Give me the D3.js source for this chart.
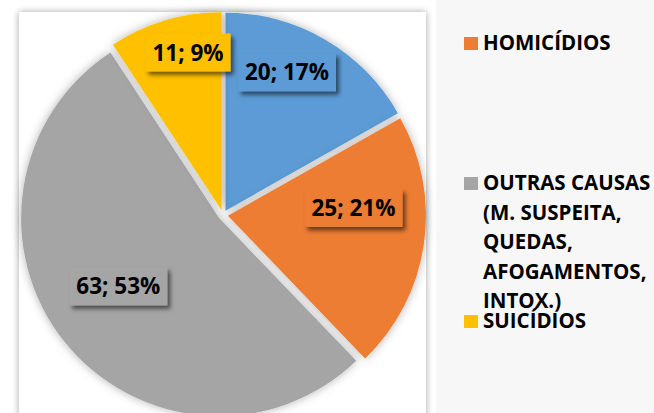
<!DOCTYPE html>
<html><head><meta charset="utf-8">
<script src="https://cdn.jsdelivr.net/npm/d3@7"></script>
<style>
html,body{margin:0;padding:0;background:#fff;}
svg{display:block;}
</style></head>
<body>
<svg id="chart" width="654" height="413"></svg>
<script>
// ---- data ----
const categories = ["OUTROS", "HOMICÍDIOS", "OUTRAS CAUSAS (M. SUSPEITA, QUEDAS, AFOGAMENTOS, INTOX.)", "SUICÍDIOS"];
const values = [20, 25, 63, 11];
const percentLabels = ["17%", "21%", "53%", "9%"];
const colors = ["#5B9BD5", "#ED7D31", "#A5A5A5", "#FFC000"];
const legendIndices = [1, 2, 3];
const legendLines = [["HOMICÍDIOS"], ["OUTRAS CAUSAS", "(M. SUSPEITA,", "QUEDAS,", "AFOGAMENTOS,", "INTOX.)"], ["SUICÍDIOS"]];

// ---- layout ----
const W = 654, H = 413;
const cx = 223, cy = 215, R = 198, explode = 5;
const labelRadius = [0.79, 0.66, 0.64, 0.84];
const labelAngleShift = [-6.1, -11.4, 4.3, 4.5];
const legendY = [50, 190, 328];
const font = "'Open Sans', sans-serif";

const svg = d3.select("#chart");
const defs = svg.append("defs");
const f1 = defs.append("filter").attr("id","panelShadow").attr("x","-10%").attr("y","-10%").attr("width","120%").attr("height","120%");
f1.append("feDropShadow").attr("dx",0).attr("dy",0).attr("stdDeviation",3.5).attr("flood-color","#000").attr("flood-opacity",0.35);
const f2 = defs.append("filter").attr("id","pieShadow").attr("x","-20%").attr("y","-20%").attr("width","140%").attr("height","140%");
f2.append("feDropShadow").attr("dx",0).attr("dy",0).attr("stdDeviation",5).attr("flood-color","#000").attr("flood-opacity",0.3);
const f3 = defs.append("filter").attr("id","boxShadow").attr("x","-20%").attr("y","-30%").attr("width","150%").attr("height","170%");
f3.append("feDropShadow").attr("dx",3).attr("dy",3.5).attr("stdDeviation",2).attr("flood-color","#000").attr("flood-opacity",0.55);

// background: legend area
svg.append("rect").attr("x",436).attr("y",0).attr("width",W-436).attr("height",H).attr("fill","#f7f7f7");
// plot panel
svg.append("rect").attr("x",19).attr("y",12).attr("width",407).attr("height",H+20).attr("fill","#fff").attr("filter","url(#panelShadow)");

const pie = d3.pie().sort(null).value(d => d)(values);
const arc = d3.arc().innerRadius(0).outerRadius(R);

const g = svg.append("g").attr("transform",`translate(${cx},${cy})`);
g.selectAll("path").data(pie).join("path")
  .attr("d", arc)
  .attr("fill", (d,i) => colors[i])
  .attr("filter","url(#pieShadow)")
  .attr("transform", d => {
    const a = (d.startAngle + d.endAngle)/2;
    return `translate(${explode*Math.sin(a)},${-explode*Math.cos(a)})`;
  });

// labels
const lg = g.selectAll("g.lbl").data(pie).join("g").attr("class","lbl")
  .attr("transform", (d,i) => {
    const a = (d.startAngle + d.endAngle)/2 + labelAngleShift[i]*Math.PI/180;
    const r = R*labelRadius[i];
    return `translate(${r*Math.sin(a)},${-r*Math.cos(a)})`;
  });
lg.each(function(d,i){
  const s = d3.select(this);
  const rect = s.append("rect").attr("fill", colors[i]).attr("filter","url(#boxShadow)");
  const t = s.append("text").attr("text-anchor","middle").attr("dy","0.36em")
    .attr("font-family", font).attr("font-weight","bold").attr("font-size",22.5)
    .attr("fill","#000").text(`${values[i]}; ${percentLabels[i]}`);
  const bb = t.node().getBBox();
  rect.attr("x", bb.x-7).attr("y", -19).attr("width", bb.width+14).attr("height", 38);
});

// legend
const leg = svg.append("g");
legendIndices.forEach((ci, k) => {
  const y = legendY[k];
  leg.append("rect").attr("x",464).attr("y",y-13).attr("width",14).attr("height",13).attr("fill",colors[ci]);
  const t = leg.append("text").attr("x",483).attr("y",y)
    .attr("font-family",font).attr("font-weight","bold").attr("font-size",20.5).attr("fill","#000");
  legendLines[k].forEach((line, j) => {
    t.append("tspan").attr("x",483).attr("y", y + j*29.5).text(line);
  });
});
</script>
</body></html>
